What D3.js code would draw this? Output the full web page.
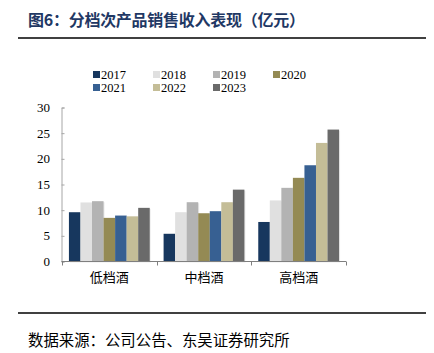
<!DOCTYPE html>
<html><head><meta charset="utf-8">
<script src="https://cdn.jsdelivr.net/npm/d3@7"></script>
<style>body{margin:0;background:#fff}svg{display:block}</style>
</head><body><svg id="c" width="434" height="353"></svg>
<script>
const categories = ["低档酒", "中档酒", "高档酒"];
const years = ["2017", "2018", "2019", "2020", "2021", "2022", "2023"];
const colors = ["#17375e", "#e0e0e0", "#b3b3b3", "#948a54", "#376092", "#c4bd97", "#6a6a6a"];
const values = {
  "2017": [9.6, 5.4, 7.7],
  "2018": [11.5, 9.6, 11.9],
  "2019": [11.75, 11.55, 14.35],
  "2020": [8.5, 9.4, 16.3],
  "2021": [8.95, 9.8, 18.75],
  "2022": [8.8, 11.55, 23.1],
  "2023": [10.45, 14.0, 25.7]
};
const yTicks = [0, 5, 10, 15, 20, 25, 30];

const svg = d3.select("#c");
const serif = "'Liberation Serif','DejaVu Serif',serif";
const cjk = "'Noto Sans CJK SC','Noto Sans',sans-serif";

// title
svg.append("text").attr("x", 28).attr("y", 26).attr("fill", "#1f3864")
  .attr("font-family", cjk).attr("font-weight", "bold").attr("font-size", 16)
  .attr("textLength", 277).attr("lengthAdjust", "spacing")
  .text("图6：分档次产品销售收入表现（亿元）");
svg.append("line").attr("x1", 18).attr("x2", 426).attr("y1", 38).attr("y2", 38)
  .attr("stroke", "#000").attr("stroke-width", 1.5);
svg.append("line").attr("x1", 18).attr("x2", 426).attr("y1", 313).attr("y2", 313)
  .attr("stroke", "#000").attr("stroke-width", 1.5);
svg.append("text").attr("x", 28).attr("y", 346).attr("fill", "#000")
  .attr("font-family", cjk).attr("font-size", 15.4)
  .text("数据来源：公司公告、东吴证券研究所");

const x0 = d3.scaleBand().domain(categories).range([62, 346]).paddingInner(0).paddingOuter(0);
const x1 = d3.scaleBand().domain(years).range([0, x0.bandwidth()]).paddingOuter(0.6).paddingInner(0);
const y = d3.scaleLinear().domain([0, 30]).range([261.5, 107.5]);

// bars
const g = svg.append("g");
categories.forEach((c, ci) => {
  years.forEach((yr, yi) => {
    const v = values[yr][ci];
    const bx = x0(c) + x1(yr);
    g.append("rect").attr("x", bx + 1).attr("y", y(v) + 1)
      .attr("width", x1.bandwidth()).attr("height", y(0) - y(v))
      .attr("fill", "#000").attr("opacity", 0.08);
    g.append("rect").attr("x", bx).attr("y", y(v))
      .attr("width", x1.bandwidth()).attr("height", y(0) - y(v))
      .attr("fill", colors[yi]);
  });
});

// y axis
const ya = svg.append("g").attr("transform", "translate(61.5,0)")
  .call(d3.axisRight(y).tickValues(yTicks).tickSize(3).tickFormat(""));
ya.select(".domain").attr("stroke", "#a6a6a6");
ya.selectAll(".tick line").attr("stroke", "#a6a6a6");
yTicks.forEach(t => {
  svg.append("text").attr("x", 50).attr("y", y(t) + 4.5).attr("text-anchor", "end")
    .attr("font-family", serif).attr("font-size", 13).attr("fill", "#000").text(t);
});

// x axis
const xa = svg.append("g").attr("transform", "translate(0,261.5)");
xa.append("line").attr("x1", 61.5).attr("x2", 346).attr("y1", 0).attr("y2", 0).attr("stroke", "#7f7f7f");
[62, 346].concat(categories.slice(1).map(c => x0(c))).forEach(px => {
  xa.append("line").attr("x1", Math.round(px) + 0.5).attr("x2", Math.round(px) + 0.5)
    .attr("y1", 0).attr("y2", 4).attr("stroke", "#7f7f7f");
});
categories.forEach(c => {
  svg.append("text").attr("x", x0(c) + x0.bandwidth() / 2).attr("y", 282)
    .attr("text-anchor", "middle").attr("font-family", cjk).attr("font-size", 13)
    .attr("fill", "#000").text(c);
});

// legend
const lg = svg.append("g");
years.forEach((yr, i) => {
  const col = i % 4, row = Math.floor(i / 4);
  const lx = 93 + col * 60, ly = 71 + row * 13;
  lg.append("rect").attr("x", lx).attr("y", ly).attr("width", 7).attr("height", 7)
    .attr("fill", colors[i]);
  lg.append("text").attr("x", lx + 8).attr("y", ly + 7.5).attr("font-family", serif)
    .attr("font-size", 12.5).attr("fill", "#000").text(yr);
});
</script></body></html>
